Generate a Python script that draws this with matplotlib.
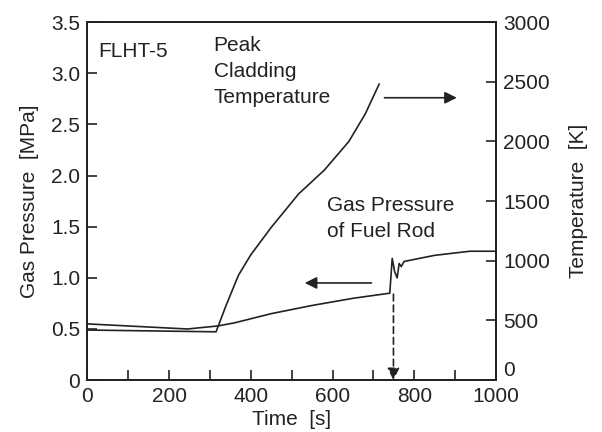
import matplotlib.pyplot as plt
from matplotlib.ticker import MultipleLocator

plt.rcParams['font.family'] = ['Liberation Sans', 'DejaVu Sans']

# Peak cladding temperature [K] vs time [s]
temp_time = [0, 315, 340, 370, 400, 450, 517, 580, 640, 680, 714]
temp_vals = [420, 405, 630, 880, 1050, 1280, 1560, 1760, 2000, 2230, 2480]

# Gas pressure of fuel rod [MPa] vs time [s]
pres_time = [0, 245, 320, 360, 450, 550, 650, 740, 746, 752, 758, 763, 768, 775, 850, 936, 1000]
pres_vals = [0.55, 0.50, 0.53, 0.56, 0.65, 0.73, 0.80, 0.85, 1.19, 1.06, 1.00, 1.14, 1.11, 1.16, 1.22, 1.26, 1.26]

temp_ticks = [0, 500, 1000, 1500, 2000, 2500, 3000]
rupture_time = 749

ink = '#222222'
fs = 15

fig = plt.figure(figsize=(6.02, 4.32), dpi=100)
ax = fig.add_axes([0.145, 0.120, 0.679, 0.829])
ax2 = ax.twinx()

ax.plot(pres_time, pres_vals, color=ink, lw=1.2)
ax2.plot(temp_time, temp_vals, color=ink, lw=1.2)

ax.set_xlim(0, 1000)
ax.set_ylim(0, 3.5)
ax2.set_ylim(0, 3000)

ax.xaxis.set_major_locator(MultipleLocator(200))
ax.xaxis.set_minor_locator(MultipleLocator(100))
ax.yaxis.set_major_locator(MultipleLocator(0.5))
ax.yaxis.set_major_formatter(lambda v, p: '0' if v == 0 else f'{v:.1f}')
ax2.set_yticks(temp_ticks)

for a in (ax, ax2):
    a.tick_params(direction='in', length=7, width=1.2, labelsize=fs, colors=ink, pad=5)
    a.tick_params(which='minor', direction='in', length=7, width=1.2, colors=ink)
    for s in a.spines.values():
        s.set_linewidth(1.3)
        s.set_color(ink)
ax.tick_params(axis='x', pad=5)

# lift the right-hand zero so it clears the 1000 on the time axis
ax2.get_yticklabels()[0].set_verticalalignment('bottom')

ax.set_xlabel('Time  [s]', fontsize=fs, color=ink, labelpad=3)
ax.set_ylabel('Gas Pressure  [MPa]', fontsize=fs, color=ink, labelpad=9)
ax2.set_ylabel('Temperature  [K]', fontsize=fs, color=ink, labelpad=14)

# rupture marker
ax.annotate('', xy=(rupture_time, 0.0), xytext=(rupture_time, 0.84),
            arrowprops=dict(arrowstyle='-|>', linestyle=(0, (4, 2.5)), color=ink, lw=1.2,
                            mutation_scale=18, shrinkA=0, shrinkB=0))

# direction arrows
ax.annotate('', xy=(904, 2.76), xytext=(727, 2.76),
            arrowprops=dict(arrowstyle='-|>', color=ink, lw=1.2, mutation_scale=18,
                            shrinkA=0, shrinkB=0))
ax.annotate('', xy=(532, 0.95), xytext=(695, 0.95),
            arrowprops=dict(arrowstyle='-|>', color=ink, lw=1.2, mutation_scale=18,
                            shrinkA=0, shrinkB=0))

ax.text(26, 3.21, 'FLHT-5', fontsize=fs, color=ink, va='center')
ax.text(309, 3.36, 'Peak\nCladding\nTemperature', fontsize=fs, color=ink,
        va='top', linespacing=1.45)
ax.text(586, 1.80, 'Gas Pressure\nof Fuel Rod', fontsize=fs, color=ink,
        va='top', linespacing=1.45)

fig.savefig('out.png', dpi=100, facecolor='white')
